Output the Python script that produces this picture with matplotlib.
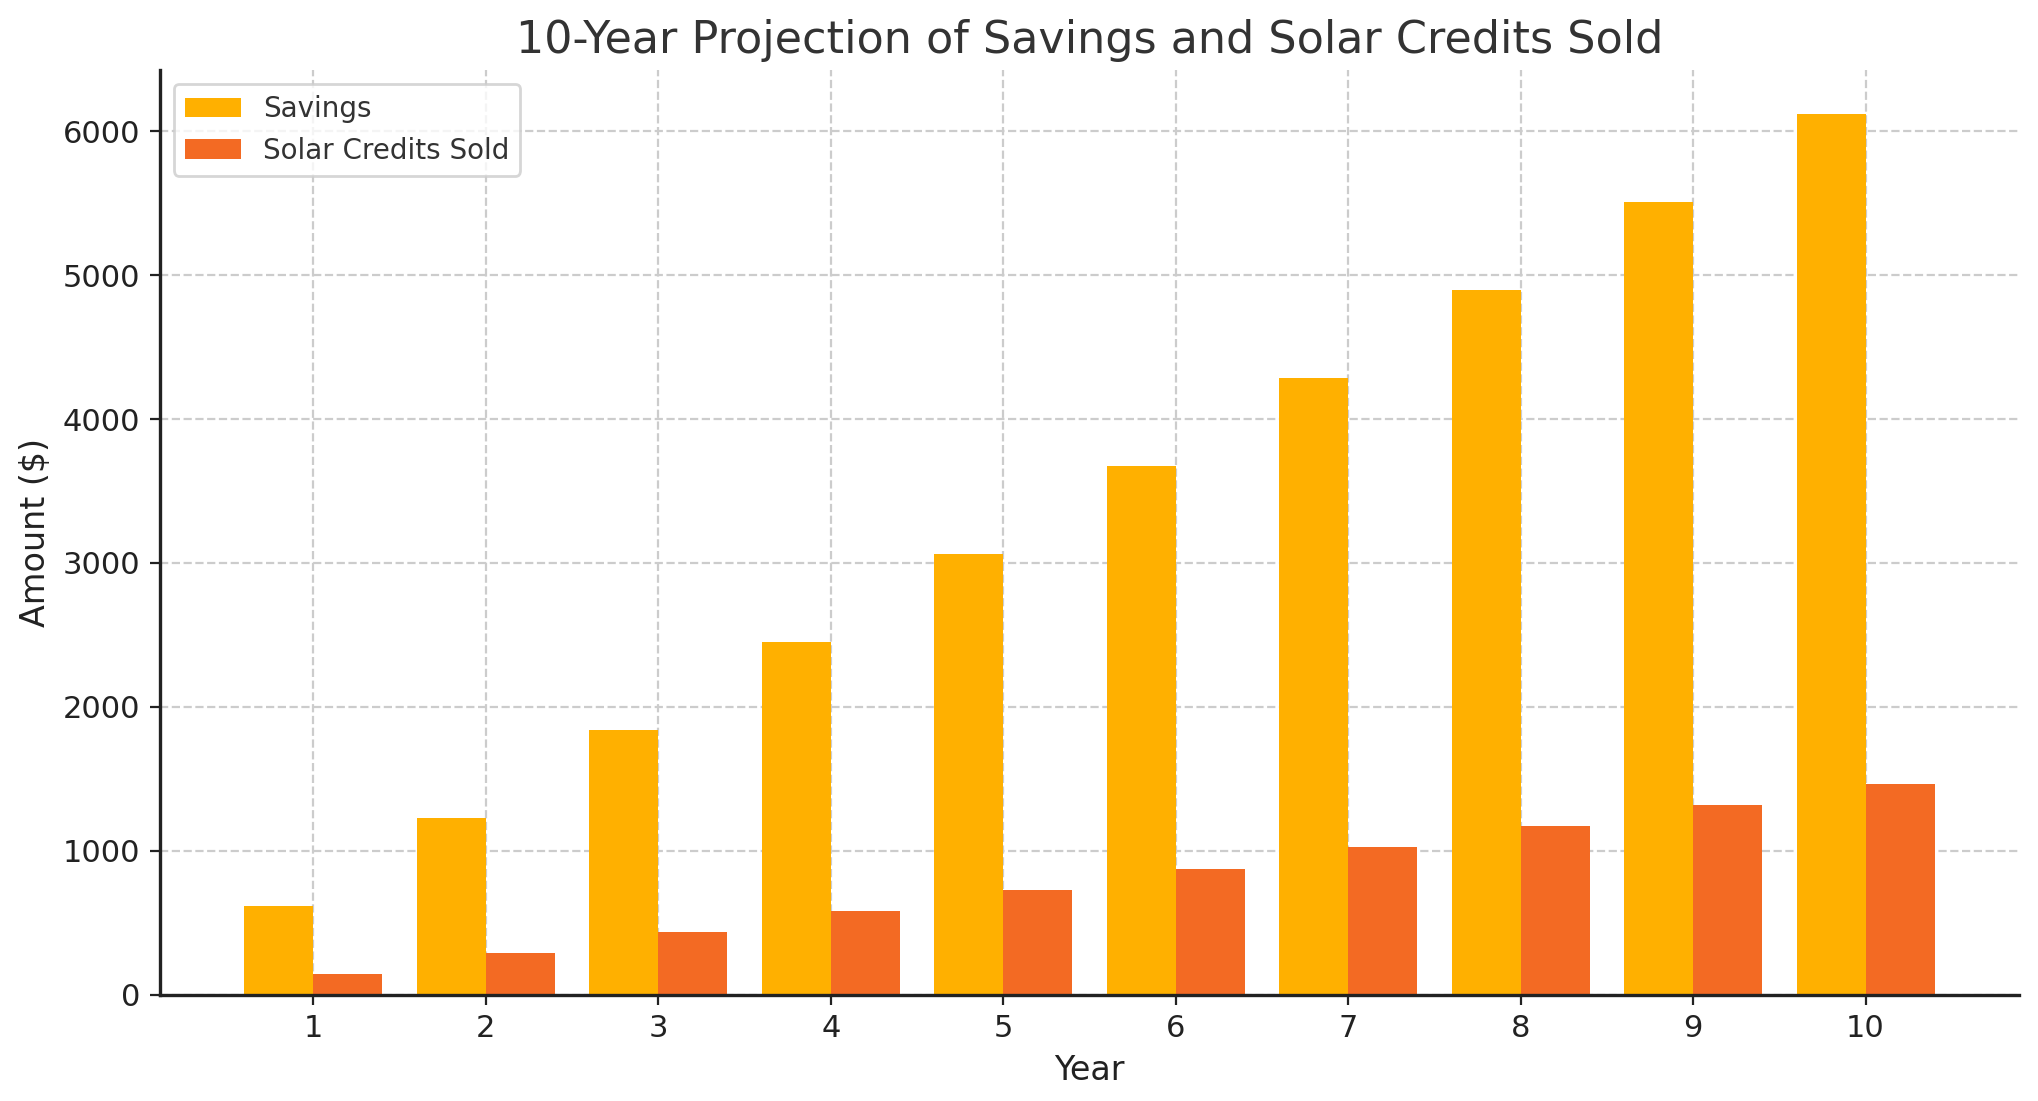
import numpy as np
import matplotlib
matplotlib.use('Agg')
import matplotlib.pyplot as plt

years = [1, 2, 3, 4, 5, 6, 7, 8, 9, 10]
savings = [612, 1224, 1836, 2448, 3060, 3672, 4284, 4896, 5508, 6120]
solar_credits = [146, 292, 438, 584, 730, 876, 1022, 1168, 1314, 1460]

plt.rcParams['font.family'] = 'DejaVu Sans'
plt.rcParams['text.color'] = '#333333'
plt.rcParams['axes.labelcolor'] = '#222222'

fig = plt.figure(figsize=(10.19, 5.505), dpi=200)
ax = fig.add_subplot(1, 1, 1)
plt.subplots_adjust(left=0.0785, right=0.9907, bottom=0.0967, top=0.9364)

x = np.array(years)
w = 0.4
ax.bar(x - w / 2, savings, w, color='#FFB000', label='Savings')
ax.bar(x + w / 2, solar_credits, w, color='#F36A23', label='Solar Credits Sold')

ax.set_axisbelow(True)
ax.grid(True, linestyle='--', color='#cccccc', linewidth=0.8)
ax.spines['top'].set_visible(False)
ax.spines['right'].set_visible(False)
ax.spines['left'].set_linewidth(1.2)
ax.spines['bottom'].set_linewidth(1.2)
ax.spines['left'].set_color('#222222')
ax.spines['bottom'].set_color('#222222')

ax.set_xticks(years)
ax.tick_params(labelsize=11, colors='#222222')
ax.set_xlabel('Year', fontsize=12)
ax.set_ylabel('Amount ($)', fontsize=12)
ax.set_title('10-Year Projection of Savings and Solar Credits Sold', fontsize=16, color='#333333')
ax.legend(loc='upper left', fontsize=10)

fig.savefig('out.png', dpi=200)
